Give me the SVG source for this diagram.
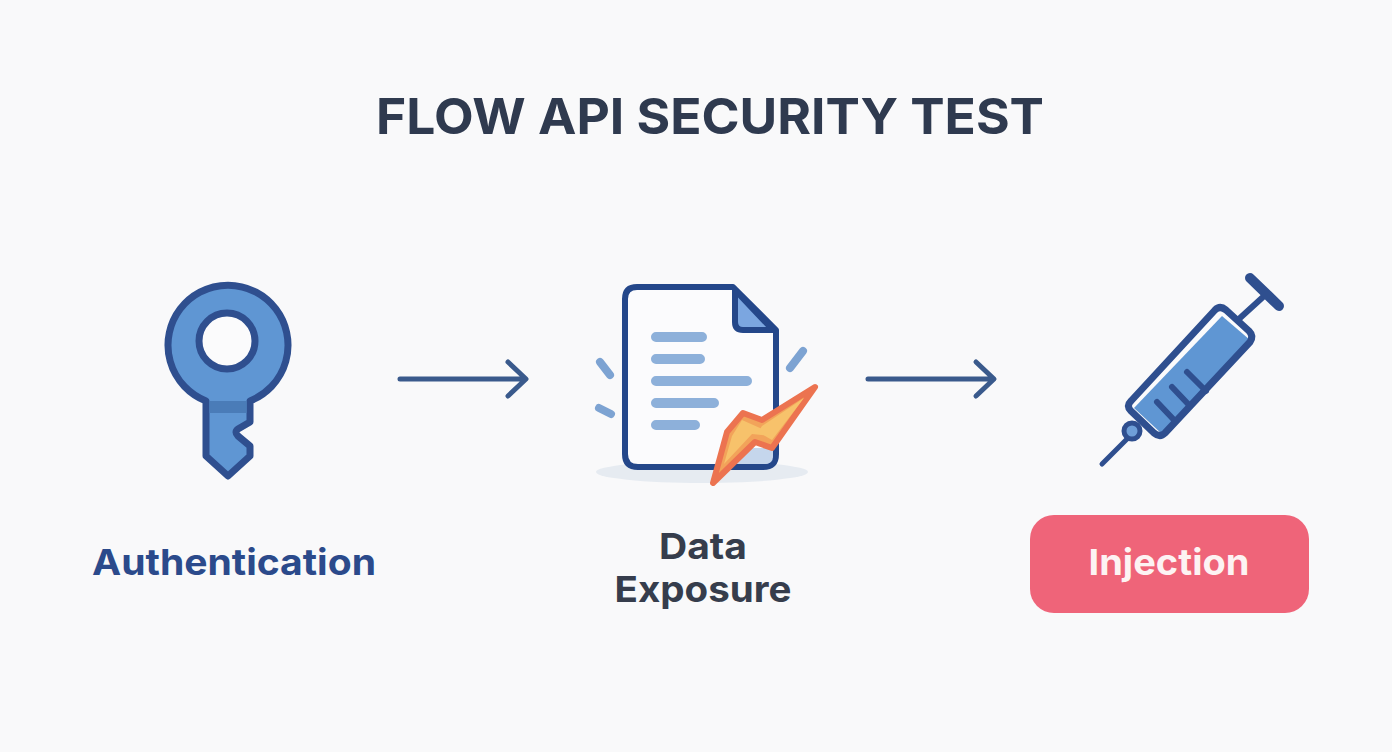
<svg xmlns="http://www.w3.org/2000/svg" width="1392" height="752" viewBox="0 0 1392 752">
<style>
text{font-family:Inter,"Liberation Sans",sans-serif;font-weight:700;text-anchor:middle}
.conn{fill:none;stroke:#3a5a8c;stroke-width:5;stroke-linecap:round;stroke-linejoin:round}
.ol{stroke:#2f4f8f;stroke-linejoin:round;stroke-linecap:round}
.bar{stroke:#8db0da;stroke-width:10;stroke-linecap:round}
.spark{stroke:#7da3d2;stroke-width:8;stroke-linecap:round}
</style>
<rect width="1392" height="752" fill="#f9f9fa"/>
<text x="710" y="134" font-size="50" fill="#2f3a4f" textLength="668" lengthAdjust="spacingAndGlyphs">FLOW API SECURITY TEST</text>
<g id="connectors">
<path class="conn" d="M400 379H525M508 362L526 379L508 396"/>
<path class="conn" d="M868 379H993M976 362L994 379L976 396"/>
</g>
<g id="node-authentication">
<path class="ol" fill="#5f96d3" stroke-width="7" d="M206 401A60 60 0 1 1 250 401V422L238 429Q234 432 238 436L250 446V456L228 476L206 456Z"/>
<rect x="209.500" y="401" width="37" height="12" fill="#4a7cb8"/>
<circle class="ol" cx="227" cy="341" r="28" fill="#fbfbfc" stroke-width="7"/>
<text x="234" y="575" font-size="36" fill="#2b4a8b" textLength="284" lengthAdjust="spacingAndGlyphs">Authentication</text>
</g>
<g id="node-data-exposure">
<ellipse cx="702" cy="472" rx="106" ry="11" fill="#e6ebf1"/>
<path fill="#fbfbfd" stroke="#24478a" stroke-width="6" stroke-linejoin="round" d="M637 287H733L776 330V454Q776 467 763 467H638Q625 467 625 454V299Q625 287 637 287Z"/>
<path d="M735 290L773 330H743Q735 330 735 322Z" fill="#7ba6e0" stroke="#24478a" stroke-width="6" stroke-linejoin="round"/>
<path d="M745 448H773V456Q773 464 765 464H735Z" fill="#c5d6ec"/>
<path class="bar" d="M656 337H702M656 359H700M656 381H747M656 403H714M656 425H695"/>
<path class="spark" d="M600 362L610 375M599 408L611 414M803 351L790 368"/>
<path fill="#f2a35a" stroke="#ec7350" stroke-width="6" stroke-linejoin="round" d="M815 387L762 420L743 413L727 432L713 483L755 442L772 448Z"/>
<path fill="#f7c26b" d="M742 420L760 428L772 436L752 434L724 464L732 436Z"/>
<path fill="#f7c26b" d="M762 426L804 398L772 440L758 432Z"/>
<text x="703" y="559" font-size="36" fill="#363d4c" textLength="88" lengthAdjust="spacingAndGlyphs">Data</text>
<text x="703" y="602" font-size="36" fill="#363d4c" textLength="177" lengthAdjust="spacingAndGlyphs">Exposure</text>
</g>
<g id="node-injection">
<path fill="#fbfbfc" d="M1215 310Q1220 305 1226 310L1249 331Q1254 336 1250 342L1165 433Q1160 438 1154 433L1131 411Q1126 406 1131 401Z"/>
<path fill="#5f96d3" d="M1222 316L1250 340L1162 434L1134 408Z"/>
<path class="ol" fill="none" stroke-width="7" d="M1215 310Q1220 305 1226 310L1249 331Q1254 336 1250 342L1165 433Q1160 438 1154 433L1131 411Q1126 406 1131 401Z"/>
<path class="ol" fill="none" stroke-width="6" d="M1157 402L1175 421M1172 387L1190 406M1187 372L1206 391"/>
<path class="ol" fill="none" stroke-width="6" d="M1240 318L1263 297"/>
<path class="ol" fill="none" stroke-width="10" d="M1250 278L1279 306"/>
<path class="ol" fill="none" stroke-width="5" d="M1102 464L1127 439"/>
<circle class="ol" cx="1132" cy="431" r="8" fill="#6f9fd8" stroke-width="5"/>
<rect x="1030" y="515" width="279" height="98" rx="24" fill="#ef6479"/>
<text x="1169" y="575" font-size="36" fill="#fdf3f3" textLength="161" lengthAdjust="spacingAndGlyphs">Injection</text>
</g>
</svg>
